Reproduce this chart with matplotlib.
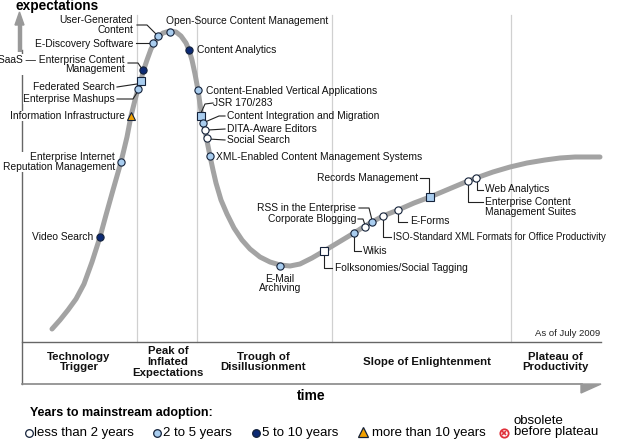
import numpy as np
import matplotlib
matplotlib.use("Agg")
import matplotlib.pyplot as plt
from matplotlib.patches import Polygon

plt.rcParams['font.family'] = ['Liberation Sans', 'DejaVu Sans']

# hype curve (pixel coords, y down)
curve_x = [52, 60, 68, 76, 84, 92, 100, 106, 113, 121, 127, 131, 135, 138, 141, 143, 147, 151,
           155, 158, 163, 170, 176, 181, 186, 189, 192, 195, 198, 200, 202, 204, 206, 208, 210,
           213, 216, 221, 227, 234, 242, 250, 260, 270, 280, 290, 300, 312, 324, 339, 354, 365,
           372, 383, 398, 414, 430, 449, 468, 476, 493, 510, 527, 545, 560, 575, 600]
curve_y = [329, 320, 310, 299, 284, 262, 237, 215, 190, 162, 137, 116, 100, 89, 80, 72, 60, 49,
           42, 37, 33, 31, 32, 36, 43, 50, 60, 74, 90, 104, 117, 126, 136, 146, 156,
           170, 183, 200, 214, 228, 240, 249, 257, 262, 265, 266, 264, 258, 251, 242, 233, 226,
           222, 216, 210, 203, 197, 189, 181, 178, 172, 167, 163, 160, 158, 157, 157]

# technologies on the curve
tech_names = ["Video Search", "Enterprise Internet\nReputation Management", "Information Infrastructure",
              "Enterprise Mashups", "Federated Search", "SaaS \u2014 Enterprise Content\nManagement",
              "E-Discovery Software", "User-Generated\nContent", "Open-Source Content Management",
              "Content Analytics", "Content-Enabled Vertical Applications", "JSR 170/283",
              "Content Integration and Migration", "DITA-Aware Editors", "Social Search",
              "XML-Enabled Content Management Systems", "E-Mail\nArchiving", "Folksonomies/Social Tagging",
              "Wikis", "Corporate Blogging", "RSS in the Enterprise",
              "ISO-Standard XML Formats for Office Productivity", "E-Forms", "Records Management",
              "Enterprise Content\nManagement Suites", "Web Analytics"]
tech_x = [100, 121, 131, 138, 141, 143, 153, 158, 170, 189, 198, 201, 203, 205, 207, 210,
          280, 324, 354, 365, 372, 383, 398, 430, 468, 476]
tech_y = [237, 162, 116, 89, 81, 70, 43, 36, 32, 50, 90, 116, 123, 130, 138, 156,
          266, 251, 233, 227, 222, 216, 210, 197, 181, 178]
# 0: <2 yrs, 1: 2-5 yrs, 2: 5-10 yrs, 3: >10 yrs
tech_cat = [2, 1, 3, 1, 1, 2, 1, 1, 1, 2, 1, 1, 1, 0, 0, 1, 1, 0, 1, 0, 1, 0, 0, 1, 0, 0]
tech_shape = ['o', 'o', '^', 'o', 's', 'o', 'o', 'o', 'o', 'o', 'o', 's', 'o', 'o', 'o', 'o',
              'o', 's', 'o', 'o', 'o', 'o', 'o', 's', 'o', 'o']

phase_names = ["Technology\nTrigger", "Peak of\nInflated\nExpectations", "Trough of\nDisillusionment",
               "Slope of Enlightenment", "Plateau of\nProductivity"]
legend_names = ["less than 2 years", "2 to 5 years", "5 to 10 years", "more than 10 years",
                "obsolete\nbefore plateau"]

cat_colors = ['white', '#a9cdef', '#0c2a74', '#f2a100']
EDGE = '#14223a'

# label layout: (text x, text y, ha, leader path)
label_layout = {
    "Video Search": (93, 237, 'right', None),
    "Enterprise Internet\nReputation Management": (115, 162, 'right', None),
    "Information Infrastructure": (125, 116, 'right', None),
    "Enterprise Mashups": (115, 99, 'right', [(117, 99), (133, 99), (138, 91)]),
    "Federated Search": (115, 87, 'right', [(117, 87), (137, 84), (140, 82)]),
    "SaaS \u2014 Enterprise Content\nManagement": (125, 64.5, 'right', [(128, 63), (138, 63), (142, 69)]),
    "E-Discovery Software": (133, 44, 'right', [(136, 43), (151, 43)]),
    "User-Generated\nContent": (133, 25, 'right', [(137, 25), (147, 25), (156, 34)]),
    "Open-Source Content Management": (166, 21, 'left', None),
    "Content Analytics": (197, 50, 'left', None),
    "Content-Enabled Vertical Applications": (206, 91, 'left', None),
    "JSR 170/283": (213, 103, 'left', [(201, 113), (205, 104), (213, 103)]),
    "Content Integration and Migration": (227, 116, 'left', [(205, 122), (219, 116), (225, 116)]),
    "DITA-Aware Editors": (227, 129, 'left', [(208, 130), (225, 129)]),
    "Social Search": (227, 140, 'left', [(209, 139), (225, 140)]),
    "XML-Enabled Content Management Systems": (216, 157, 'left', None),
    "E-Mail\nArchiving": (280, 283.5, 'center', None),
    "Folksonomies/Social Tagging": (335, 268, 'left', [(324, 254), (324, 268), (332, 268)]),
    "Wikis": (363, 251, 'left', [(354, 236), (354, 251), (361, 251)]),
    "Corporate Blogging": (356, 219, 'right', [(358, 219), (363, 219), (365, 225)]),
    "RSS in the Enterprise": (356, 208, 'right', [(359, 208), (369, 208), (372, 220)]),
    "ISO-Standard XML Formats for Office Productivity": (393, 237, 'left',
                                                         [(383, 219), (383, 237), (391, 237)]),
    "E-Forms": (410, 221, 'left', [(398, 213), (398, 222), (407, 222)]),
    "Records Management": (418, 178, 'right', [(420, 178), (429, 178), (429, 194)]),
    "Enterprise Content\nManagement Suites": (485, 207, 'left', [(468, 184), (468, 202), (483, 202)]),
    "Web Analytics": (485, 189, 'left', [(477, 181), (477, 190), (483, 190)]),
}
phase_pos = [(79, 362), (168, 362), (263, 362), (427, 362), (555, 362)]

fig = plt.figure(figsize=(6.18, 4.43), dpi=100)
ax = fig.add_axes([0, 0, 1, 1])
ax.set_xlim(0, 618)
ax.set_ylim(443, 0)
ax.axis('off')

# frame, dividers, arrows
for xd in [137, 197, 332, 511]:
    ax.plot([xd, xd], [15, 342], color='#d0d0d0', lw=0.9, zorder=1)
ax.plot([22, 22], [50, 384], color='#666666', lw=1.0, zorder=1)
ax.plot([22, 601], [342, 342], color='#666666', lw=1.0, zorder=1)
ax.plot([22, 582], [384, 384], color='#888888', lw=1.2, zorder=1)
ax.add_patch(Polygon([(581, 384), (601, 384), (581, 393)], closed=True, color='#999999', zorder=1))
ax.plot([20, 20], [22, 52], color='#999999', lw=3.2, zorder=1, solid_capstyle='butt')
ax.add_patch(Polygon([(15, 25), (24, 25), (19.5, 12)], closed=True, color='#999999', zorder=1))

ax.plot(curve_x, curve_y, color='#a3a3a3', lw=3.6, zorder=2, solid_capstyle='round')

for name, x, y, c, m in zip(tech_names, tech_x, tech_y, tech_cat, tech_shape):
    ms = 6.2 if m == '^' else 5.2
    ax.plot(x, y, marker=m, ms=ms, mfc=cat_colors[c], mec=EDGE, mew=0.8, zorder=5, ls='none')
    tx, ty, ha, path = label_layout[name]
    fs = 6.95 if name.startswith("ISO") else 7.4
    ax.text(tx, ty, name, ha=ha, va='center', fontsize=fs, color='#111111', zorder=4,
            linespacing=0.95,
            bbox=dict(fc='white', ec='none', pad=0.3) if tx < 130 else None)
    if path:
        px, py = zip(*path)
        ax.plot(px, py, color='#222222', lw=0.8, zorder=3)

ax.text(600, 334, "As of July 2009", ha='right', va='center', fontsize=6.8, color='#222222')

for name, (px, py) in zip(phase_names, phase_pos):
    ax.text(px, py, name, ha='center', va='center', fontsize=8.2, fontweight='bold',
            linespacing=1.12, color='#111111')

ax.text(57, 10, "expectations", ha='center', va='baseline', fontsize=9.8, fontweight='bold')
ax.text(311, 396, "time", ha='center', va='center', fontsize=10, fontweight='bold')
ax.text(30, 413, "Years to mainstream adoption:", ha='left', va='center', fontsize=9,
        fontweight='bold')

# legend row
leg_marker_x = [29, 157, 256, 363, 504]
leg_text_x = [34, 163, 262, 372, 514]
for i, (name, mx, tx) in enumerate(zip(legend_names, leg_marker_x, leg_text_x)):
    if i < 3:
        ax.plot(mx, 433, marker='o', ms=5.5, mfc=cat_colors[i], mec=EDGE, mew=0.9)
    elif i == 3:
        ax.plot(mx, 432, marker='^', ms=7, mfc=cat_colors[3], mec=EDGE, mew=0.9)
    else:
        ax.plot(mx, 433, marker='o', ms=6, mfc='white', mec='#e0303a', mew=1.3)
        ax.plot(mx, 433, marker='x', ms=3.2, mec='#e0303a', mew=1.2)
    if i == 4:
        ax.text(tx, 426.5, name, ha='left', va='center', fontsize=9.5, linespacing=0.95)
    else:
        ax.text(tx, 433, name, ha='left', va='center', fontsize=9.5)

fig.savefig("out.png", dpi=100)
